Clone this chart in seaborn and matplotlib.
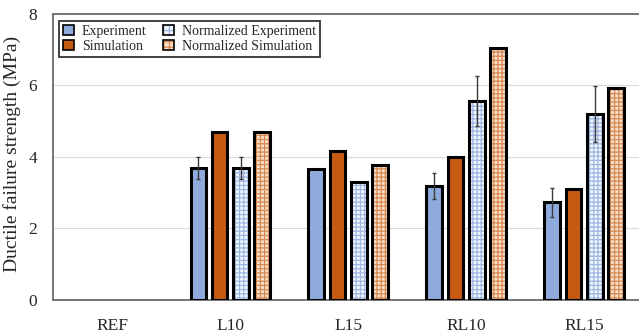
import numpy as np
import pandas as pd
import matplotlib
matplotlib.use("Agg")
import matplotlib.pyplot as plt
from matplotlib.patches import Patch, Rectangle
from matplotlib.legend_handler import HandlerTuple
import seaborn as sns

# ---- data -------------------------------------------------------------
categories = ["REF", "L10", "L15", "RL10", "RL15"]
series = ["Experiment", "Simulation", "Normalized Experiment", "Normalized Simulation"]

experiment = [np.nan, 3.68, 3.66, 3.19, 2.73]
simulation = [np.nan, 4.68, 4.17, 4.00, 3.11]
normalized_experiment = [np.nan, 3.68, 3.30, 5.56, 5.20]
normalized_simulation = [np.nan, 4.68, 3.77, 7.03, 5.91]

experiment_err = [np.nan, 0.31, np.nan, 0.37, 0.41]
normalized_experiment_err = [np.nan, 0.31, np.nan, 0.69, 0.78]

y_ticks = [0, 2, 4, 6, 8]
y_label = "Ductile failure strength (MPa)"

# ---- styling ----------------------------------------------------------
face_colors = {
    "Experiment": "#8FAADC",
    "Simulation": "#C55A11",
    "Normalized Experiment": "#F3F6FC",
    "Normalized Simulation": "#F5DFCB",
}
hatch_colors = {
    "Normalized Experiment": "#9DB6E2",
    "Normalized Simulation": "#D98A52",
}
HATCH = "++++"
EDGE_LW = 2.2
FRAME_COLOR = "#6B6B6B"

sns.set_style("white")
plt.rcParams["font.family"] = ["Liberation Serif", "DejaVu Serif"]
plt.rcParams["hatch.linewidth"] = 0.9

values = {
    "Experiment": experiment,
    "Simulation": simulation,
    "Normalized Experiment": normalized_experiment,
    "Normalized Simulation": normalized_simulation,
}
errors = {
    "Experiment": experiment_err,
    "Normalized Experiment": normalized_experiment_err,
}

rows = []
for s in series:
    for c, v in zip(categories, values[s]):
        rows.append({"group": c, "series": s, "strength": v})
df = pd.DataFrame(rows).dropna()

fig = plt.figure(figsize=(6.39, 3.35), dpi=100)
ax = fig.add_axes([0.0834, 0.1045, 0.923, 0.855])

sns.barplot(
    data=df, x="group", y="strength", hue="series",
    order=categories, hue_order=series,
    palette=face_colors, saturation=1,
    width=0.72, gap=0.26, dodge=True,
    edgecolor="black", linewidth=EDGE_LW,
    errorbar=None, legend=False, ax=ax, zorder=3,
)

# plaid fill for the normalized series, then error bars on the experiment series
for s, container in zip(series, ax.containers):
    for p in container.patches:
        h = p.get_height()
        if not np.isfinite(h):
            continue
        if s in hatch_colors:
            p.set_facecolor(face_colors[s])
            p.set_edgecolor(hatch_colors[s])
            p.set_hatch(HATCH)
            p.set_linewidth(0)
            ax.add_patch(Rectangle(p.get_xy(), p.get_width(), h, fill=False,
                                   edgecolor="black", linewidth=EDGE_LW,
                                   zorder=p.get_zorder() + 0.1))
        if s in errors:
            cx = p.get_x() + p.get_width() / 2
            idx = int(round(cx))
            err = errors[s][idx]
            if np.isfinite(err):
                ax.errorbar(cx, h, yerr=err, fmt="none", ecolor="#3A3A3A",
                            elinewidth=1.0, capsize=1.6, capthick=1.0, zorder=5)

ax.set_xlim(-0.5, len(categories) - 0.5)
ax.set_ylim(0, 8)
ax.set_yticks(y_ticks)
ax.set_xlabel("")
ax.set_ylabel(y_label, fontsize=14, color="#262626")
ax.yaxis.set_label_coords(-0.055, 0.51)

ax.tick_params(axis="both", length=0, labelsize=12.5, colors="#262626")
ax.tick_params(axis="y", pad=11.5)
ax.tick_params(axis="x", pad=13)

ax.grid(axis="y", color="#D9D9D9", linewidth=0.8, zorder=0)
ax.set_axisbelow(True)
for side, sp in ax.spines.items():
    sp.set_visible(True)
    sp.set_color(FRAME_COLOR)
    sp.set_linewidth(1.3)

# legend with outlined swatches
handles = []
for s in series:
    if s in hatch_colors:
        fill = Patch(facecolor=face_colors[s], edgecolor=hatch_colors[s],
                     hatch="+++", linewidth=0)
        outline = Patch(fill=False, edgecolor="black", linewidth=1.2)
        handles.append((fill, outline))
    else:
        handles.append(Patch(facecolor=face_colors[s], edgecolor="black",
                             linewidth=1.2))

leg = ax.legend(
    handles, series, ncol=2, loc="upper left",
    bbox_to_anchor=(0.0097, 0.975), borderaxespad=0,
    fontsize=10, frameon=True, fancybox=False,
    handlelength=0.75, handleheight=0.75, handletextpad=0.6,
    columnspacing=1.2, labelspacing=0.12, borderpad=0.3,
    handler_map={tuple: HandlerTuple(ndivide=1, pad=0)},
)
leg.get_frame().set_edgecolor("black")
leg.get_frame().set_linewidth(1.3)
leg.set_zorder(10)

fig.savefig("out.png", dpi=100)
